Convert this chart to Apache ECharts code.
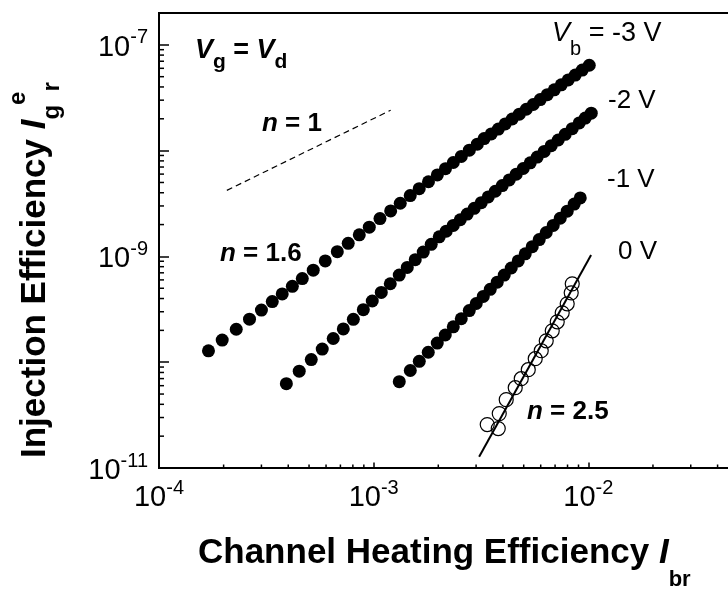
<!DOCTYPE html>
<html>
<head>
<meta charset="utf-8">
<script src="https://cdn.jsdelivr.net/npm/echarts@6/dist/echarts.min.js"></script>
<style>
  html, body { margin: 0; padding: 0; background: #fff; }
  #chart { width: 728px; height: 589px; }
</style>
</head>
<body>
<div id="chart"></div>
<script>
// Channel heating efficiency (Ibr) vs. injection efficiency for four bulk biases
const ibrVb3 = [1.70e-4, 1.97e-4, 2.29e-4, 2.64e-4, 3.00e-4, 3.37e-4, 3.75e-4, 4.18e-4, 4.65e-4, 5.23e-4,
                5.95e-4, 6.77e-4, 7.61e-4, 8.57e-4, 9.54e-4, 1.07e-3, 1.20e-3, 1.33e-3, 1.48e-3, 1.63e-3,
                1.80e-3, 1.98e-3, 2.16e-3, 2.35e-3, 2.56e-3, 2.79e-3, 3.04e-3, 3.27e-3, 3.53e-3, 3.81e-3,
                4.10e-3, 4.42e-3, 4.77e-3, 5.14e-3, 5.54e-3, 5.97e-3, 6.44e-3, 6.94e-3, 7.48e-3, 8.06e-3,
                8.69e-3, 9.37e-3, 1.01e-2];
const injVb3 = [1.28e-10, 1.62e-10, 2.05e-10, 2.55e-10, 3.11e-10, 3.74e-10, 4.42e-10, 5.22e-10, 6.17e-10, 7.42e-10,
                9.07e-10, 1.11e-9, 1.33e-9, 1.60e-9, 1.89e-9, 2.28e-9, 2.69e-9, 3.18e-9, 3.76e-9, 4.37e-9,
                5.08e-9, 5.90e-9, 6.75e-9, 7.72e-9, 8.82e-9, 1.01e-8, 1.15e-8, 1.30e-8, 1.44e-8, 1.60e-8,
                1.79e-8, 1.99e-8, 2.21e-8, 2.46e-8, 2.73e-8, 3.04e-8, 3.38e-8, 3.76e-8, 4.19e-8, 4.66e-8,
                5.18e-8, 5.77e-8, 6.41e-8];

const ibrVb2 = [3.92e-4, 4.50e-4, 5.12e-4, 5.76e-4, 6.48e-4, 7.22e-4, 8.04e-4, 8.95e-4, 9.85e-4, 1.085e-3,
                1.195e-3, 1.316e-3, 1.434e-3, 1.562e-3, 1.702e-3, 1.854e-3, 2.020e-3, 2.178e-3, 2.349e-3, 2.531e-3,
                2.729e-3, 2.941e-3, 3.171e-3, 3.418e-3, 3.685e-3, 3.972e-3, 4.281e-3, 4.615e-3, 4.975e-3, 5.363e-3,
                5.781e-3, 6.231e-3, 6.717e-3, 7.241e-3, 7.805e-3, 8.414e-3, 9.071e-3, 9.674e-3, 1.032e-2];
const injVb2 = [6.27e-11, 8.23e-11, 1.058e-10, 1.331e-10, 1.675e-10, 2.065e-10, 2.545e-10, 3.138e-10, 3.789e-10, 4.572e-10,
                5.516e-10, 6.657e-10, 7.873e-10, 9.311e-10, 1.100e-9, 1.301e-9, 1.531e-9, 1.733e-9, 1.963e-9, 2.222e-9,
                2.515e-9, 2.848e-9, 3.223e-9, 3.648e-9, 4.129e-9, 4.673e-9, 5.290e-9, 5.988e-9, 6.777e-9, 7.671e-9,
                8.686e-9, 9.831e-9, 1.113e-8, 1.260e-8, 1.426e-8, 1.614e-8, 1.827e-8, 2.032e-8, 2.259e-8];

const ibrVb1 = [1.316e-3, 1.481e-3, 1.631e-3, 1.796e-3, 1.978e-3, 2.155e-3, 2.349e-3, 2.559e-3, 2.788e-3, 3.005e-3,
                3.240e-3, 3.492e-3, 3.764e-3, 4.058e-3, 4.374e-3, 4.715e-3, 5.083e-3, 5.479e-3, 5.906e-3, 6.366e-3,
                6.862e-3, 7.397e-3, 7.973e-3, 8.595e-3, 9.170e-3];
const injVb1 = [6.55e-11, 8.35e-11, 1.019e-10, 1.242e-10, 1.516e-10, 1.809e-10, 2.159e-10, 2.576e-10, 3.075e-10, 3.589e-10,
                4.189e-10, 4.890e-10, 5.708e-10, 6.657e-10, 7.771e-10, 9.075e-10, 1.059e-9, 1.237e-9, 1.443e-9, 1.684e-9,
                1.965e-9, 2.295e-9, 2.679e-9, 3.127e-9, 3.571e-9];

const ibrVb0 = [3.381e-3, 3.805e-3, 3.846e-3, 4.145e-3, 4.565e-3, 4.869e-3, 5.250e-3, 5.657e-3, 6.034e-3, 6.366e-3,
                6.790e-3, 7.164e-3, 7.556e-3, 7.972e-3, 8.322e-3, 8.414e-3];
const injVb0 = [2.573e-11, 2.358e-11, 3.267e-11, 4.428e-11, 5.745e-11, 6.987e-11, 8.495e-11, 1.079e-10, 1.284e-10, 1.594e-10,
                1.982e-10, 2.410e-10, 2.931e-10, 3.563e-10, 4.524e-10, 5.502e-10];

// power-law guide lines: fit through the 0 V data (n = 2.5) and the n = 1 reference slope
const fitVb0X = [3.10e-3, 1.03e-2];
const fitVb0Y = [1.28e-11, 1.03e-9];
const slopeOneX = [2.07e-4, 1.20e-3];
const slopeOneY = [4.21e-9, 2.41e-8];

// axis ranges, labelled decades and minor tick positions
const X_MIN = 1e-4, X_MAX = 1e-1;
const Y_MIN = 1e-11, Y_MAX = 2e-7;
const xLabelExponents = [-4, -3, -2, -1];
const yLabelExponents = [-11, -9, -7];
const xMinorTicks = [2e-4, 3e-4, 4e-4, 5e-4, 6e-4, 7e-4, 8e-4, 9e-4,
                     2e-3, 3e-3, 4e-3, 5e-3, 6e-3, 7e-3, 8e-3, 9e-3,
                     2e-2, 3e-2, 4e-2, 5e-2, 6e-2, 7e-2, 8e-2, 9e-2];
const yMinorTicks = [2e-11, 3e-11, 4e-11, 5e-11, 6e-11, 7e-11, 8e-11, 9e-11,
                     2e-10, 3e-10, 4e-10, 5e-10, 6e-10, 7e-10, 8e-10, 9e-10,
                     2e-9, 3e-9, 4e-9, 5e-9, 6e-9, 7e-9, 8e-9, 9e-9,
                     2e-8, 3e-8, 4e-8, 5e-8, 6e-8, 7e-8, 8e-8, 9e-8];

const FONT = "'Liberation Sans', Arial, Helvetica, sans-serif";

function pairs(xs, ys) { return xs.map((x, i) => [x, ys[i]]); }
function exponentOf(v) {
  const l = Math.log10(v), e = Math.round(l);
  return Math.abs(l - e) < 1e-6 ? e : null;
}
function decadeFormatter(list) {
  return v => {
    const e = exponentOf(v);
    return (e !== null && list.indexOf(e) >= 0) ? '{b|10}{s|' + e + '}' : '';
  };
}
const tickRich = {
  b: { fontFamily: FONT, fontSize: 29, lineHeight: 40, color: '#000' },
  s: { fontFamily: FONT, fontSize: 20, lineHeight: 20, verticalAlign: 'top', color: '#000' }
};

function minorTickSeries(values, horizontal) {
  return {
    type: 'custom', silent: true, clip: false, z: 6,
    data: values.map(v => horizontal ? [v, Y_MIN] : [X_MIN, v]),
    renderItem: (params, api) => {
      const p = api.coord([api.value(0), api.value(1)]);
      const shape = horizontal
        ? { x1: p[0], y1: p[1], x2: p[0], y2: p[1] - 3.5 }
        : { x1: p[0], y1: p[1], x2: p[0] + 5, y2: p[1] };
      return { type: 'line', shape: shape, style: { stroke: '#000', lineWidth: 1.5 } };
    }
  };
}

function label(x, y, text, rich, rotation) {
  return {
    type: 'text', x: x, y: y, rotation: rotation || 0, silent: true, z: 20,
    style: {
      text: text, rich: rich, fill: '#000', fontFamily: FONT,
      align: 'left', textAlign: 'left', verticalAlign: 'middle', textVerticalAlign: 'middle'
    }
  };
}
const plain = (size, lh) => ({ fontFamily: FONT, fontSize: size, lineHeight: lh || size, color: '#000' });
const bold = (size, lh) => Object.assign(plain(size, lh), { fontWeight: 'bold' });
const boldItalic = (size, lh) => Object.assign(bold(size, lh), { fontStyle: 'italic' });
const italic = (size, lh) => Object.assign(plain(size, lh), { fontStyle: 'italic' });

const chart = echarts.init(document.getElementById('chart'), null, { renderer: 'canvas' });

const dot = { symbol: 'circle', symbolSize: 13, itemStyle: { color: '#000', opacity: 1 } };

chart.setOption({
  animation: false,
  backgroundColor: '#fff',
  grid: { left: 159, top: 13, width: 644, height: 455, show: true, borderColor: '#000', borderWidth: 2,
          backgroundColor: 'transparent', containLabel: false, outerBoundsMode: 'none' },
  xAxis: {
    type: 'log', logBase: 10, min: X_MIN, max: X_MAX,
    axisLine: { lineStyle: { color: '#000', width: 2 } },
    axisTick: { inside: true, length: 5.5, lineStyle: { color: '#000', width: 1.5 } },
    splitLine: { show: false },
    axisLabel: { formatter: decadeFormatter(xLabelExponents), rich: tickRich, margin: 10 }
  },
  yAxis: {
    type: 'log', logBase: 10, min: Y_MIN, max: Y_MAX,
    axisLine: { lineStyle: { color: '#000', width: 2 } },
    axisTick: { inside: true, length: 10, lineStyle: { color: '#000', width: 1.5 } },
    splitLine: { show: false },
    axisLabel: { formatter: decadeFormatter(yLabelExponents), rich: tickRich, margin: 11, padding: [6, 0, 0, 0] }
  },
  series: [
    minorTickSeries(xMinorTicks, true),
    minorTickSeries(yMinorTicks, false),
    { name: 'n = 1', type: 'line', data: pairs(slopeOneX, slopeOneY), showSymbol: false, silent: true,
      lineStyle: { color: '#000', width: 1.2, type: [6, 4] } },
    { name: 'fit 0 V', type: 'line', data: pairs(fitVb0X, fitVb0Y), showSymbol: false, silent: true,
      lineStyle: { color: '#000', width: 2 } },
    Object.assign({ name: '-3 V', type: 'scatter', data: pairs(ibrVb3, injVb3) }, dot),
    Object.assign({ name: '-2 V', type: 'scatter', data: pairs(ibrVb2, injVb2) }, dot),
    Object.assign({ name: '-1 V', type: 'scatter', data: pairs(ibrVb1, injVb1) }, dot),
    { name: '0 V', type: 'scatter', data: pairs(ibrVb0, injVb0), symbol: 'circle', symbolSize: 14,
      itemStyle: { color: 'rgba(0,0,0,0)', borderColor: '#000', borderWidth: 1.2, opacity: 1 } }
  ],
  graphic: [
    // axis titles
    label(198, 552.9, '{t|Channel Heating Efficiency }{i|I}{sb|br}',
      { t: bold(35, 77), i: boldItalic(35, 77), sb: Object.assign(bold(22), { verticalAlign: 'bottom' }) }),
    label(35, 458, '{t|Injection Efficiency }{i|I}{sb|g}{sp|e}{sb|r}',
      { t: bold(35, 58), i: boldItalic(35, 58),
        sb: Object.assign(bold(24), { verticalAlign: 'bottom' }),
        sp: Object.assign(bold(24, 44), { verticalAlign: 'top' }) }, Math.PI / 2),
    // bias condition
    label(195, 50.6, '{v|V}{sb|g}{m| = }{v|V}{sb|d}',
      { v: boldItalic(27, 45), m: bold(27, 45), sb: Object.assign(bold(21), { verticalAlign: 'bottom' }) }),
    // slope annotations
    label(262, 124, '{n|n}{m| = 1}', { n: boldItalic(26), m: bold(26) }),
    label(220, 254, '{n|n}{m| = 1.6}', { n: boldItalic(26), m: bold(26) }),
    label(527, 412, '{n|n}{m| = 2.5}', { n: boldItalic(26), m: bold(26) }),
    // bulk bias labels
    label(552, 33.9, '{v|V}{sb|b}{m| = -3 V}',
      { v: italic(27, 52), m: plain(27, 52), sb: Object.assign(plain(20), { verticalAlign: 'bottom' }) }),
    label(608, 101, '{m|-2 V}', { m: plain(26) }),
    label(607, 180, '{m|-1 V}', { m: plain(26) }),
    label(618, 252, '{m|0 V}', { m: plain(26) })
  ]
});
</script>
</body>
</html>
